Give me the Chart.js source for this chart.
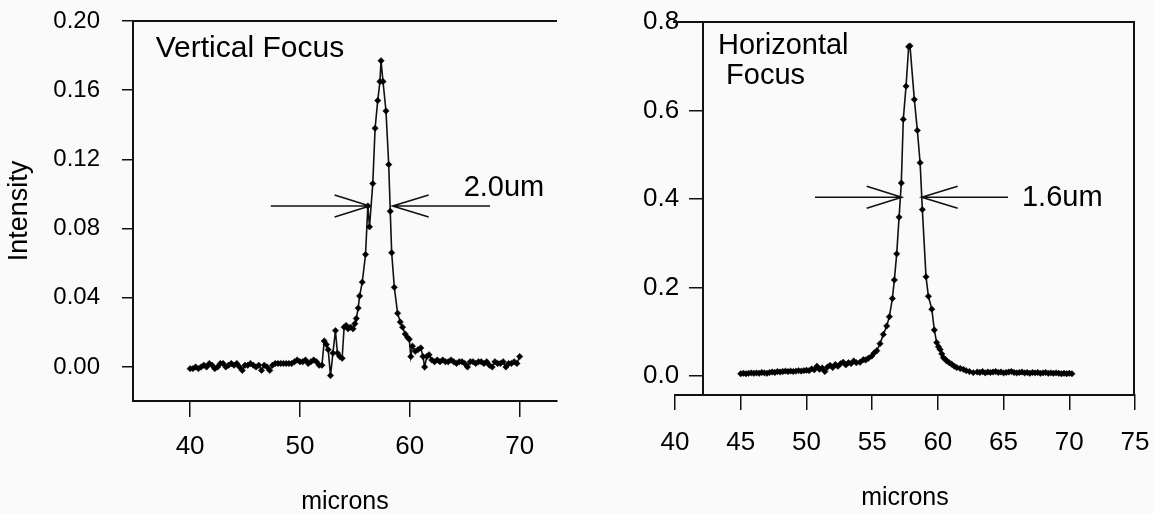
<!DOCTYPE html>
<html><head><meta charset="utf-8">
<script src="https://cdn.jsdelivr.net/npm/chart.js@4.4.1/dist/chart.umd.min.js"></script>
<style>
html,body{margin:0;padding:0;background:#fafafa;}
#wrap{position:relative;width:1154px;height:514px;overflow:hidden;}
#c1{position:absolute;left:0;top:0;}
#c2{position:absolute;left:620px;top:0;}
</style></head><body>
<div id="wrap">
<canvas id="c1" width="620" height="514"></canvas>
<canvas id="c2" width="534" height="514"></canvas>
</div>
<script>
// ---------- Vertical focus (left panel) ----------
const vertX = [40,40.25,40.5,40.75,41,41.25,41.5,41.75,42,42.25,42.5,42.75,43,43.25,43.5,43.75,44,44.25,44.5,44.75,45,45.25,45.5,45.75,46,46.25,46.5,46.75,47,47.25,47.5,47.75,48,48.25,48.5,48.75,49,49.25,49.5,49.75,50,50.25,50.5,50.75,51,51.25,51.5,51.75,
  52.0,52.21,52.4,52.57,52.78,53.0,53.23,53.41,53.62,53.84,54.02,54.2,54.38,54.6,54.83,55.0,55.13,55.3,55.43,55.67,55.97,56.18,56.33,56.63,56.84,57.08,57.28,57.38,57.56,57.83,58.08,58.22,58.35,58.59,58.89,59.13,59.34,59.58,59.8,59.95,60.09,60.24,60.5,60.75,61.0,61.2,61.35,61.55,61.75,
  62,62.25,62.5,62.75,63,63.25,63.5,63.75,64,64.25,64.5,64.75,65,65.25,65.5,65.75,66,66.25,66.5,66.75,67,67.25,67.5,67.75,68,68.25,68.5,68.75,69,69.25,69.5,69.75,70];
const vertY = [-0.001,-0.001,0.000,-0.001,0.000,0.001,0.000,0.002,0.001,-0.001,0.000,0.002,0.002,0.000,0.001,0.002,0.001,0.002,0.000,-0.002,0.001,0.001,0.002,0.001,0.000,0.001,-0.002,0.001,0.000,-0.002,0.001,0.002,0.002,0.002,0.002,0.002,0.002,0.002,0.003,0.004,0.003,0.003,0.004,0.002,0.003,0.004,0.003,0.001,
  0.001,0.015,0.013,0.010,-0.005,0.008,0.021,0.008,0.006,0.005,0.023,0.024,0.022,0.023,0.022,0.025,0.028,0.034,0.041,0.049,0.065,0.093,0.081,0.106,0.138,0.154,0.165,0.177,0.165,0.148,0.117,0.090,0.066,0.046,0.031,0.026,0.023,0.019,0.017,0.016,0.006,0.012,0.009,0.010,0.011,0.006,0.000,0.006,0.007,
  0.004,0.003,0.004,0.003,0.004,0.003,0.003,0.004,0.003,0.002,0.003,0.003,0.002,0.000,0.003,0.003,0.002,0.003,0.003,0.002,0.003,0.001,0.000,0.003,0.002,0.002,0.003,0.000,0.002,0.002,0.003,0.002,0.006];
const vertXTicks = [40,50,60,70];
const vertYTicks = [0,0.04,0.08,0.12,0.16,0.20];

// ---------- Horizontal focus (right panel) ----------
const horzX = [45.0,45.2,45.4,45.6,45.8,46.0,46.2,46.4,46.6,46.8,47.0,47.2,47.4,47.6,47.8,48.0,48.2,48.4,48.6,48.8,49.0,49.2,49.4,49.6,49.8,50.0,50.2,50.4,50.6,50.8,51.0,51.2,51.4,51.6,51.8,52.0,52.2,52.4,52.6,52.8,53.0,53.2,53.4,53.6,53.8,
  54.08,54.33,54.5,54.71,54.97,55.15,55.35,55.6,55.85,56.11,56.31,56.54,56.69,56.87,57.05,57.22,57.37,57.58,57.78,57.88,58.21,58.44,58.65,58.82,59.10,59.28,59.54,59.73,59.91,60.05,60.17,60.3,60.42,60.55,60.68,60.87,61.06,61.25,61.44,61.7,61.94,62.15,62.4,62.7,
  63.0,63.2,63.4,63.6,63.8,64.0,64.2,64.4,64.6,64.8,65.0,65.2,65.4,65.6,65.8,66.0,66.2,66.4,66.6,66.8,67.0,67.2,67.4,67.6,67.8,68.0,68.2,68.4,68.6,68.8,69.0,69.2,69.4,69.6,69.8,70.0,70.2];
const horzY = [0.005,0.006,0.005,0.006,0.007, 0.006,0.007,0.006,0.008,0.007, 0.006,0.008,0.009,0.008,0.010, 0.009,0.010,0.011,0.010,0.011, 0.010,0.011,0.012,0.011,0.012, 0.013,0.012,0.016,0.014,0.022, 0.015,0.018,0.010,0.020,0.024, 0.019,0.026,0.022,0.028,0.031, 0.025,0.030,0.028,0.034,0.030,
  0.031,0.037,0.036,0.040,0.045,0.052,0.057,0.073,0.094,0.113,0.134,0.175,0.217,0.276,0.359,0.436,0.580,0.655,0.744,0.746,0.625,0.555,0.482,0.376,0.224,0.180,0.151,0.104,0.0755,0.066,0.060,0.050,0.0415,0.038,0.034,0.030,0.0265,0.022,0.019,0.017,0.015,0.012,0.010,0.0075,
  0.009,0.008,0.010,0.007,0.009,0.008,0.009,0.010,0.008,0.009,0.007,0.008,0.009,0.010,0.008,0.007,0.008,0.009,0.007,0.008,0.006,0.008,0.007,0.008,0.006,0.007,0.008,0.006,0.007,0.006,0.007,0.006,0.005,0.006,0.005,0.006,0.005];
const horzXTicks = [40,45,50,55,60,65,70,75];
const horzYTicks = [0,0.2,0.4,0.6,0.8];

// annotations (data coordinates)
const vertNote = {title:['Vertical Focus'], titleSize:30, titleX:36.87, titleY:[0.179], y:0.093, from:47.34, leftTip:56.34, rightTip:58.44, to:67.3, label:'2.0um', labelX:64.9, labelY:0.0988};
const horzNote = {title:['Horizontal',' Focus'], titleSize:29, titleX:43.27, titleY:[0.728,0.66], y:0.404, from:50.65, leftTip:57.25, rightTip:58.77, to:65.34, label:'1.6um', labelX:66.4, labelY:0.384};
const horzYAxisAt = 42.13;

const FAMILY = "'Liberation Sans', Arial, Helvetica, sans-serif";
Chart.defaults.font.family = FAMILY;
Chart.defaults.color = '#000';

function pts(xs, ys){ return xs.map((x,i)=>({x:x, y:ys[i]})); }
function setTicks(arr){ return (s)=>{ s.ticks = arr.map(v=>({value:v})); }; }
function fitTo(w, h){
  return (s)=>{
    if (w !== null) s.width = w;
    if (h !== null) s.height = h;
    s.paddingLeft = 0; s.paddingRight = 0; s.paddingTop = 0; s.paddingBottom = 0;
  };
}

const notePlugin = {
  id:'note',
  afterDatasetsDraw(chart, args, opts){
    const n = opts.note; if(!n) return;
    const ctx = chart.ctx, xs = chart.scales.x, ys = chart.scales.y;
    const X = v=>xs.getPixelForValue(v), Y = v=>ys.getPixelForValue(v);
    ctx.save();
    ctx.strokeStyle = '#111'; ctx.lineWidth = 1.6; ctx.fillStyle = '#000';
    const y = Y(n.y), lt = X(n.leftTip), rt = X(n.rightTip);
    ctx.beginPath();
    ctx.moveTo(X(n.from), y); ctx.lineTo(lt, y);
    ctx.moveTo(lt-35, y-11); ctx.lineTo(lt, y); ctx.lineTo(lt-35, y+11);
    ctx.moveTo(X(n.to), y); ctx.lineTo(rt, y);
    ctx.moveTo(rt+36, y-11); ctx.lineTo(rt, y); ctx.lineTo(rt+36, y+11);
    ctx.stroke();
    ctx.textBaseline = 'alphabetic'; ctx.textAlign = 'left';
    ctx.font = "29px " + FAMILY;
    ctx.fillText(n.label, X(n.labelX), Y(n.labelY));
    ctx.font = n.titleSize + "px " + FAMILY;
    n.title.forEach((t,i)=>ctx.fillText(t, X(n.titleX), Y(n.titleY[i])));
    ctx.restore();
  }
};
const framePlugin = {
  id:'frame',
  afterDraw(chart, args, opts){
    const a = chart.chartArea, ctx = chart.ctx;
    ctx.save(); ctx.strokeStyle = '#111'; ctx.lineWidth = 2;
    ctx.beginPath();
    const startX = opts.axisAt !== undefined ? chart.scales.x.getPixelForValue(opts.axisAt) - 30 : a.left;
    ctx.moveTo(startX, a.top); ctx.lineTo(a.right, a.top);
    if (opts.right) { ctx.moveTo(a.right-1, a.top); ctx.lineTo(a.right-1, a.bottom); }
    ctx.stroke(); ctx.restore();
  }
};

const lineStyle = {borderColor:'#111', borderWidth:1.6, pointStyle:'rectRot', pointRadius:3.2, pointBackgroundColor:'#000', pointBorderColor:'#000', pointBorderWidth:0.5, tension:0, fill:false};

new Chart(document.getElementById('c1'), {
  type:'line',
  data:{datasets:[Object.assign({label:'Vertical Focus', data:pts(vertX, vertY)}, lineStyle)]},
  options:{
    responsive:false, animation:false, parsing:false,
    layout:{padding:{left:0, right:63, top:21, bottom:0}},
    plugins:{legend:{display:false}, tooltip:{enabled:false}, note:{note:vertNote}, frame:{}},
    scales:{
      x:{type:'linear', min:34.8, max:73.4, position:'bottom',
        afterBuildTicks:setTicks(vertXTicks), afterFit:fitTo(null, 113),
        grid:{drawOnChartArea:false, drawTicks:true, tickLength:16, color:'#111', lineWidth:1.5},
        border:{display:true, color:'#111', width:2},
        ticks:{font:{size:26}, color:'#000', padding:14, maxRotation:0, autoSkip:false, callback:v=>String(v)},
        title:{display:true, text:'microns', font:{size:25}, color:'#000', padding:{top:0, bottom:-3}}},
      y:{type:'linear', min:-0.0197, max:0.2, position:'left',
        afterBuildTicks:setTicks(vertYTicks), afterFit:fitTo(133, null),
        grid:{drawOnChartArea:false, drawTicks:true, tickLength:11, color:'#111', lineWidth:1.5},
        border:{display:true, color:'#111', width:2},
        ticks:{font:{size:24}, color:'#000', padding:22, callback:v=>v.toFixed(2)},
        title:{display:true, text:'Intensity', font:{size:27}, color:'#000', padding:{top:3, bottom:0}}}
    }
  },
  plugins:[notePlugin, framePlugin]
});

new Chart(document.getElementById('c2'), {
  type:'line',
  data:{datasets:[Object.assign({label:'Horizontal Focus', data:pts(horzX, horzY)}, lineStyle)]},
  options:{
    responsive:false, animation:false, parsing:false,
    layout:{padding:{left:0, right:19, top:22, bottom:0}},
    plugins:{legend:{display:false}, tooltip:{enabled:false}, note:{note:horzNote}, frame:{right:true, axisAt:horzYAxisAt}},
    scales:{
      x:{type:'linear', min:40, max:75, position:'bottom',
        afterBuildTicks:setTicks(horzXTicks), afterFit:fitTo(null, 119),
        grid:{drawOnChartArea:false, drawTicks:true, tickLength:15, color:'#111', lineWidth:1.5},
        border:{display:true, color:'#111', width:2},
        ticks:{font:{size:26}, color:'#000', padding:17, maxRotation:0, autoSkip:false, callback:v=>String(v)},
        title:{display:true, text:'microns', font:{size:25}, color:'#000', padding:{top:0, bottom:1}}},
      y:{type:'linear', min:-0.043, max:0.8, position:'left',
        afterBuildTicks:setTicks(horzYTicks), afterFit:fitTo(55, null),
        grid:{display:false, drawTicks:false},
        border:{display:false},
        ticks:{font:{size:26}, color:'#000', mirror:true, crossAlign:'near', padding:-32, callback:v=>v.toFixed(1)}},
      y2:{type:'linear', min:-0.043, max:0.8, position:{x:horzYAxisAt},
        afterBuildTicks:setTicks(horzYTicks), afterFit:fitTo(null, null),
        grid:{drawOnChartArea:false, drawTicks:true, tickLength:13, color:'#111', lineWidth:1.5},
        border:{display:true, color:'#111', width:2},
        ticks:{display:false}}
    }
  },
  plugins:[notePlugin, framePlugin]
});
</script>
</body></html>
